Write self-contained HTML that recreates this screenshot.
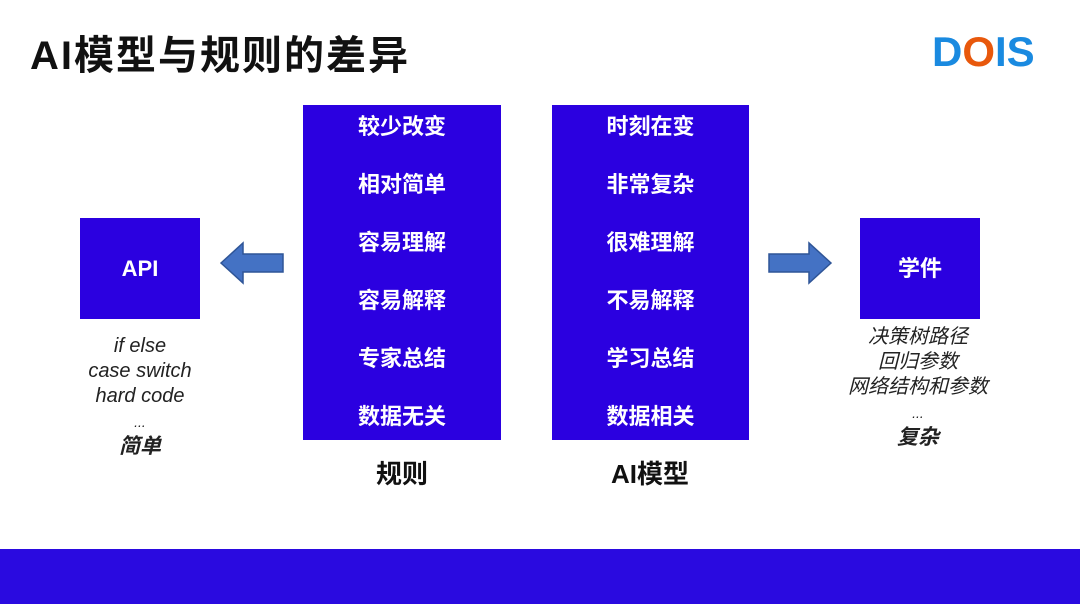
<!DOCTYPE html>
<html><head><meta charset="utf-8"><style>
*{margin:0;padding:0;box-sizing:border-box}
body{width:1080px;height:604px;background:#fff;position:relative;overflow:hidden;font-family:"Liberation Sans","Noto Sans CJK SC",sans-serif}
.a{position:absolute}
.blue{background:#2b00e0}
.col{position:absolute;top:105px;height:335px;background:#2b00e0;color:#fff;font-weight:bold;font-size:22px;text-align:center}
.col div{position:absolute;left:0;right:0;height:30px;line-height:30px}
.lbl{position:absolute;font-weight:bold;font-size:26px;color:#111;text-align:center;width:200px}
.it{position:absolute;font-style:italic;font-size:20px;color:#222;text-align:center;line-height:25px}
</style></head><body>
<div class="a" style="left:30px;top:23px;font-size:40px;font-weight:bold;color:#111;letter-spacing:2px">AI模型与规则的差异</div>
<div class="a" style="left:932px;top:28px;font-size:42px;font-weight:900;color:#1a8ae0;font-family:'Liberation Sans',sans-serif;letter-spacing:0px">D<span style="color:#e8580c">O</span>IS</div>

<div class="a blue" style="left:80px;top:218px;width:120px;height:101px;color:#fff;font-weight:bold;font-size:22px;text-align:center;line-height:101px">API</div>
<div class="a blue" style="left:860px;top:218px;width:120px;height:101px;color:#fff;font-weight:bold;font-size:22px;text-align:center;line-height:101px">学件</div>

<svg class="a" style="left:215px;top:238px" width="75" height="50"><polygon points="6,25 28,5 28,16 68,16 68,34 28,34 28,45" fill="#4472c4" stroke="#2f5597" stroke-width="1.5"/></svg>
<svg class="a" style="left:763px;top:238px" width="75" height="50"><polygon points="68,25 46,5 46,16 6,16 6,34 46,34 46,45" fill="#4472c4" stroke="#2f5597" stroke-width="1.5"/></svg>

<div class="col" style="left:303px;width:198px">
<div style="top:7px">较少改变</div><div style="top:65px">相对简单</div><div style="top:123px">容易理解</div><div style="top:181px">容易解释</div><div style="top:239px">专家总结</div><div style="top:297px">数据无关</div>
</div>
<div class="col" style="left:552px;width:197px">
<div style="top:7px">时刻在变</div><div style="top:65px">非常复杂</div><div style="top:123px">很难理解</div><div style="top:181px">不易解释</div><div style="top:239px">学习总结</div><div style="top:297px">数据相关</div>
</div>
<div class="lbl" style="left:302px;top:454px">规则</div>
<div class="lbl" style="left:550px;top:454px">AI模型</div>

<div class="it" style="left:40px;width:200px;top:334px">if else<br>case switch<br>hard code<br><span style="font-size:14px;line-height:18px">...</span><br><b style="font-size:21px">简单</b></div>
<div class="it" style="left:818px;width:200px;top:325px">决策树路径<br>回归参数<br>网络结构和参数<br><span style="font-size:14px;line-height:18px">...</span><br><b style="font-size:21px">复杂</b></div>

<div class="a blue" style="left:0;top:549px;width:1080px;height:55px;background:#2a0ae0"></div>
</body></html>
